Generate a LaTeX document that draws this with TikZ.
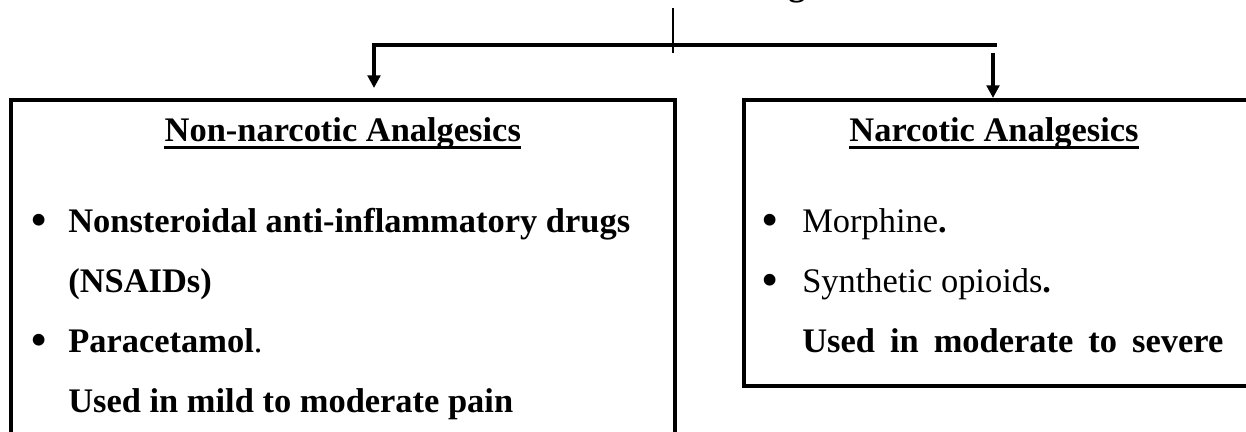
\documentclass[tikz,border=0pt]{standalone}
\usepackage{fontspec}
\setmainfont{Liberation Serif}
\usetikzlibrary{arrows.meta}
\tikzset{box/.style = {draw, line width=2.6pt, inner sep=0pt, anchor=north west}}
\tikzset{txt/.style = {inner sep=0pt, anchor=base west, font=\fontsize{24.5}{29}\selectfont}}
\tikzset{btxt/.style = {txt, font=\fontsize{24.5}{29}\selectfont\bfseries}}
\tikzset{head/.style = {btxt, anchor=base}}
\tikzset{dot/.style = {inner sep=0pt, anchor=base, font=\fontsize{35}{35}\selectfont}}
\tikzset{uline/.style = {line width=2.1pt}}
\tikzset{link/.style = {line width=2.6pt}}
\tikzset{tip/.style = {link, -{Triangle[width=9pt,length=9pt]}}}
\def\W{31.15}
\def\H{10.8}

\begin{document}
\begin{tikzpicture}
	\useasboundingbox (0,0) rectangle (\W,\H);
	\clip (0,0) rectangle (\W,\H);

	% Title (cut off at the top)
	\node[head] (title) at (19.875,10.9) {Analgesics};

	% Boxes
	\node[box, minimum width=16.6cm, minimum height=9.5cm] (nonnarc) at (0.225,8.35) {};
	\node[box, minimum width=12.7cm, minimum height=7.15cm] (narc) at (18.55,8.35) {};

	% Connectors
	\coordinate (tickT) at (16.825,10.6);
	\coordinate (tickB) at (16.825,9.475);
	\coordinate (hubL) at (9.35,9.675);
	\coordinate (hubR) at (24.925,9.675);
	\coordinate (tipL) at (9.35,8.6);
	\coordinate (stemR) at (24.825,9.475);
	\draw[link, line width=2pt] (tickT) -- (tickB);
	\draw[tip] (hubR) -- (hubL) -- (tipL);
	\draw[tip] (stemR) -- (stemR |- narc.north);

	% Headings
	\node[head] (nonnarchead) at (nonnarc.north |- 0,7.25) {Non-narcotic Analgesics};
	\node[head] (narchead) at (24.85,7.25) {Narcotic Analgesics};
	\foreach \n in {nonnarchead, narchead}
		\draw[uline] ([yshift=-3.8pt]\n.base west) -- ([yshift=-3.8pt]\n.base east);

	% Bullets
	\foreach \x/\y [count=\i] in {0.975/4.975, 0.975/1.975, 19.25/4.975, 19.25/3.475}
		\node[dot] (bul\i) at (\x,\y-0.1) {\textbullet};

	% Non-narcotic list
	\node[btxt] (nsaid) at (1.7,4.975) {Nonsteroidal anti-inflammatory drugs};
	\node[btxt] (nsaidabbr) at (1.7,3.475) {(NSAIDs)};
	\node[txt] (para) at (1.7,1.975) {\textbf{Paracetamol}.};
	\node[btxt] (mildpain) at (1.7,0.475) {Used in mild to moderate pain};

	% Narcotic list
	\node[txt] (morph) at (20.05,4.975) {Morphine\textbf{.}};
	\node[txt] (synth) at (20.05,3.475) {Synthetic opioids\textbf{.}};
	\node[btxt] (severe) at (20.05,1.975) {\makebox[10.525cm][s]{Used in moderate to severe}};
\end{tikzpicture}
\end{document}
